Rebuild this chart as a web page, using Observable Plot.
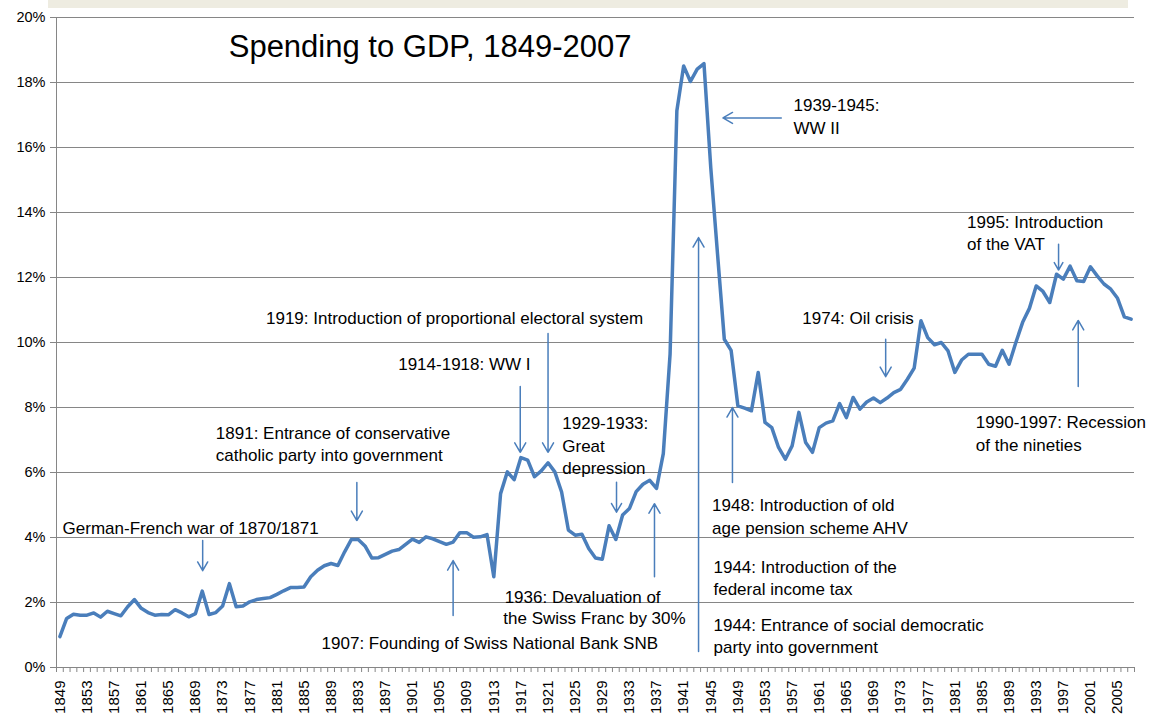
<!DOCTYPE html>
<html><head><meta charset="utf-8">
<script src="https://cdn.jsdelivr.net/npm/d3@7"></script>
<script src="https://cdn.jsdelivr.net/npm/@observablehq/plot@0.6"></script>
<style>
body{margin:0;background:#fff;}
#wrap{position:relative;width:1149px;height:720px;overflow:hidden;}
#band{position:absolute;left:48px;top:0;width:1080px;height:8px;background:#EEECE1;}
#chart{position:absolute;left:0;top:0;}
</style></head><body>
<div id="wrap"><div id="band"></div><div id="chart"></div></div>
<script>
// ---- Data ----
const years = d3.range(1849, 2008);
const spending = [
  0.95,1.51,1.64,1.61,1.61,1.68,1.55,1.73,1.66,1.59, // 1849-1858
  1.87,2.09,1.82,1.69,1.61,1.63,1.62,1.78,1.68,1.56, // 1859-1868
  1.66,2.35,1.63,1.69,1.89,2.58,1.87,1.89,2.02,2.09, // 1869-1878
  2.12,2.15,2.25,2.36,2.46,2.46,2.48,2.79,2.99,3.13, // 1879-1888
  3.20,3.14,3.56,3.94,3.94,3.74,3.37,3.38,3.48,3.58, // 1889-1898
  3.63,3.79,3.95,3.85,4.02,3.96,3.87,3.79,3.86,4.15, // 1899-1908
  4.15,4.01,4.02,4.09,2.79,5.35,6.02,5.78,6.46,6.38, // 1909-1918
  5.87,6.05,6.30,6.02,5.40,4.23,4.07,4.10,3.66,3.37, // 1919-1928
  3.33,4.36,3.94,4.69,4.89,5.41,5.64,5.76,5.51,6.58, // 1929-1938
  9.64,17.13,18.51,18.03,18.41,18.58,15.38,12.72,10.10,9.76, // 1939-1948
  8.05,7.98,7.90,9.08,7.54,7.38,6.77,6.41,6.82,7.85, // 1949-1958
  6.92,6.62,7.38,7.52,7.59,8.12,7.69,8.31,7.95,8.17, // 1959-1968
  8.29,8.15,8.29,8.46,8.56,8.87,9.21,10.67,10.15,9.93, // 1969-1978
  10.00,9.74,9.08,9.46,9.64,9.64,9.64,9.33,9.27,9.76, // 1979-1988
  9.33,10.00,10.62,11.05,11.74,11.57,11.23,12.10,11.95,12.35, // 1989-1998
  11.90,11.88,12.33,12.05,11.80,11.64,11.36,10.79,10.72 // 1999-2007
];
const labelYears = d3.range(1849, 2008, 4);
const yTicks = d3.range(0, 21, 2);
const titleText = "Spending to GDP, 1849-2007";

// annotation lines, placed in data units (year, %)
const noteText = [
  "1939-1945:", "WW II",
  "1995: Introduction", "of the VAT",
  "1919: Introduction of proportional electoral system",
  "1974: Oil crisis",
  "1914-1918: WW I",
  "1929-1933:", "Great", "depression",
  "1990-1997: Recession", "of the nineties",
  "1891: Entrance of conservative", "catholic party into government",
  "German-French war of 1870/1871",
  "1948: Introduction of old", "age pension scheme AHV",
  "1944: Introduction of the", "federal income tax",
  "1936: Devaluation of", "the Swiss Franc by 30%",
  "1907: Founding of Swiss National Bank SNB",
  "1944: Entrance of social democratic", "party into government"
];
const noteYear = [1957.2,1957.2, 1982.8,1982.8, 1879.4, 1958.5, 1898.9, 1923.1,1923.1,1923.1,
  1984.1,1984.1, 1872.0,1872.0, 1849.4, 1945.2,1945.2, 1945.4,1945.4, 1914.6,1914.4, 1887.6, 1945.4,1945.4];
const notePct = [17.29,16.58, 13.69,13.02, 10.74, 10.74, 9.32, 7.51,6.80,6.12,
  7.54,6.83, 7.20,6.52, 4.28, 4.98,4.28, 3.08,2.40, 2.16,1.51, 0.74, 1.29,0.62];

// arrows: from (year1, pct1) to (year2, pct2)
const arrowYear1 = [1870.06,1892.8,1907.0,1916.9,1921.0,1931.1,1936.7,1955.4,1943.2,1948.2,1970.8,1996.3,1999.2];
const arrowPct1  = [3.91,5.69,1.60,8.65,10.28,5.70,2.79,16.91,0.49,5.69,10.10,13.02,8.65];
const arrowYear2 = [1870.06,1892.8,1907.0,1916.9,1921.0,1931.1,1936.7,1946.8,1943.2,1948.2,1970.8,1996.3,1999.2];
const arrowPct2  = [2.98,4.52,3.29,6.62,6.62,4.78,5.04,16.91,13.23,8.00,8.95,12.23,10.68];

// ---- Build ----
const series = years.map((y, i) => ({year: y, value: spending[i]}));
const notes = noteText.map((t, i) => ({text: t, x: noteYear[i], y: notePct[i]}));
const arrows = arrowYear1.map((x1, i) => ({x1, y1: arrowPct1[i], x2: arrowYear2[i], y2: arrowPct2[i]}));
const boundaries = d3.range(1848.5, 2008, 1);
const GRAY = "#868686";
const BLUE = "#4A7EBB";

const chart = Plot.plot({
  width: 1149, height: 720,
  marginLeft: 56, marginRight: 15, marginTop: 17, marginBottom: 53,
  x: {domain: [1848.5, 2007.5]},
  y: {domain: [0, 20]},
  style: {fontFamily: "'Liberation Sans', Arial, sans-serif", fontSize: "15px", background: "none", color: "#000"},
  marks: [
    Plot.gridY(yTicks, {stroke: GRAY, strokeOpacity: 1}),
    Plot.axisY(yTicks, {tickSize: 6, tickPadding: 5, tickFormat: d => d + "%", stroke: GRAY, fontSize: 14.5, label: null}),
    Plot.ruleX([1848.5], {stroke: GRAY}),
    Plot.ruleY([0], {stroke: GRAY}),
    Plot.axisX(boundaries, {tickSize: 5, tickFormat: () => "", stroke: GRAY, label: null}),
    Plot.axisX(labelYears, {tickSize: 0, tickPadding: 13, tickRotate: -90, tickFormat: d => String(d), fontSize: 15, label: null}),
    Plot.line(series, {x: "year", y: "value", stroke: BLUE, strokeWidth: 3.5}),
    Plot.arrow(arrows, {x1: "x1", y1: "y1", x2: "x2", y2: "y2", stroke: BLUE, strokeWidth: 1.5, headLength: 11, headAngle: 60}),
    Plot.text(notes, {x: "x", y: "y", text: "text", textAnchor: "start", fontSize: 17, fill: "#000"}),
    Plot.text([titleText], {x: 1873.9, y: 19.08, text: d => d, textAnchor: "start", fontSize: 31, fill: "#000"})
  ]
});
document.getElementById("chart").appendChild(chart);
</script>
</body></html>
